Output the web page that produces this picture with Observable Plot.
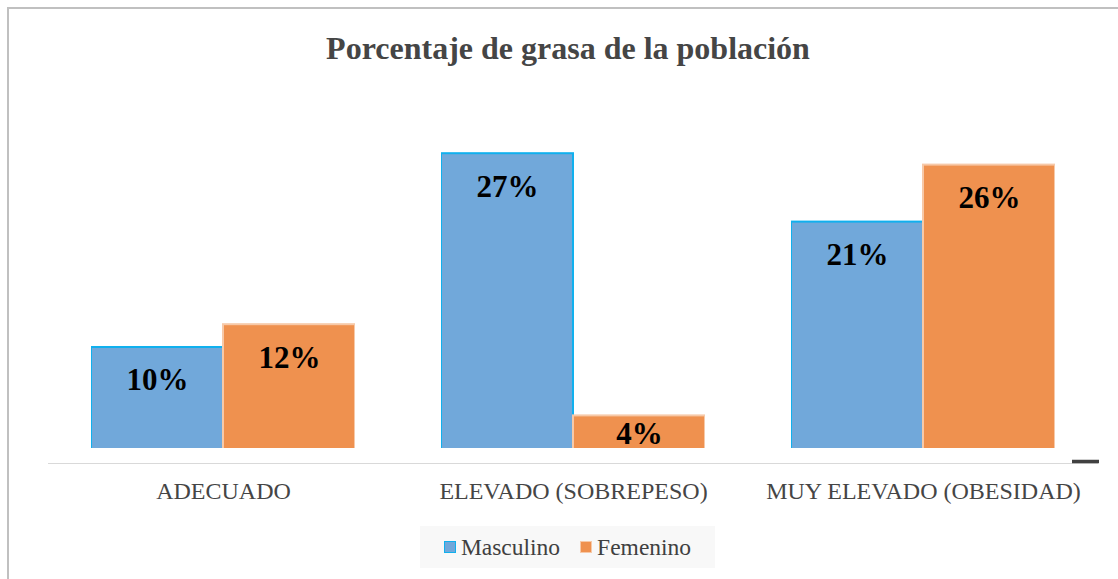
<!DOCTYPE html>
<html>
<head>
<meta charset="utf-8">
<script src="https://cdn.jsdelivr.net/npm/d3@7"></script>
<script src="https://cdn.jsdelivr.net/npm/@observablehq/plot@0.6"></script>
<style>
  html, body { margin: 0; padding: 0; background: #fff; width: 1118px; height: 579px; overflow: hidden; }
  #wrap { position: relative; width: 1118px; height: 579px; }
  #border { position: absolute; left: 7px; top: 7px; width: 1200px; height: 700px;
            border-left: 2px solid #c0c0c0; border-top: 2px solid #c0c0c0; }
  #title { position: absolute; left: 0; width: 1136px; top: 30px; text-align: center;
           font-family: "Liberation Serif", "Times New Roman", serif; font-weight: bold;
           font-size: 32px; line-height: 1.15; color: #454545; white-space: nowrap; }
  #chart { position: absolute; left: 0; top: 0; }
  #legend { position: absolute; left: 420px; top: 526px; width: 295px; height: 42px;
            background: #f8f8f8; display: flex; align-items: center; justify-content: center;
            font-family: "Liberation Serif", "Times New Roman", serif; font-size: 23.5px; color: #404040; }
  .item { display: flex; align-items: center; margin: 0 10px; }
  .sw { width: 10px; height: 10px; margin-right: 5px; }
</style>
</head>
<body>
<div id="wrap">
  <div id="border"></div>
  <div id="chart"></div>
  <div id="title"></div>
  <div id="legend"></div>
</div>
<script>
const titleText = "Porcentaje de grasa de la población";
const categories = ["ADECUADO", "ELEVADO (SOBREPESO)", "MUY ELEVADO (OBESIDAD)"];
const seriesNames = ["Masculino", "Femenino"];
const masculino = [10, 27, 21];
const femenino = [12, 4, 26];
const fills = ["#71A8DA", "#EF914F"];
const strokes = ["#10B0EE", "#F7C9A8"];

const data = [];
categories.forEach((c, i) => {
  data.push({cat: c, sex: seriesNames[0], v: masculino[i]});
  data.push({cat: c, sex: seriesNames[1], v: femenino[i]});
});

document.getElementById("title").textContent = titleText;

const axisFloor = 1.14;
const plot = Plot.plot({
  width: 1118,
  height: 579,
  marginLeft: 48,
  marginRight: 19,
  marginTop: 119,
  marginBottom: 131,
  style: {fontFamily: "'Liberation Serif', 'Times New Roman', serif", fontSize: "24px", color: "#454545", background: "transparent"},
  fx: {domain: categories, paddingInner: 0.2457, paddingOuter: 0.1228, axis: "bottom", tickSize: 0, tickPadding: 33, label: null},
  x: {domain: seriesNames, padding: 0, axis: null},
  y: {domain: [axisFloor, 30], axis: null},
  color: {domain: seriesNames, range: fills},
  marks: [
    Plot.ruleY([0], {dy: 2, insetLeft: -43, insetRight: -43, stroke: "#d9d9d9", strokeWidth: 1.2}),
    Plot.barY(data, {fx: "cat", x: "sex", y: "v", fill: "sex", stroke: d => d.sex === seriesNames[0] ? strokes[0] : strokes[1], strokeWidth: 2, clip: true}),
    Plot.text(data.filter(d => d.v > 6), {fx: "cat", x: "sex", y: "v", text: d => d.v + "%", dy: 33, fill: "#000", fontSize: 31, fontWeight: "bold"}),
    Plot.text(data.filter(d => d.v <= 6), {fx: "cat", x: "sex", y: "v", text: d => d.v + "%", dy: 18, fill: "#000", fontSize: 31, fontWeight: "bold"}),
    Plot.ruleY([{cat: categories[2], y: 0}], {fx: "cat", y: "y", insetLeft: 281, insetRight: -44, stroke: "#404040", strokeWidth: 3.5})
  ]
});
document.getElementById("chart").appendChild(plot);

const legend = document.getElementById("legend");
seriesNames.forEach((s, i) => {
  const it = document.createElement("div");
  it.className = "item";
  const sw = document.createElement("span");
  sw.className = "sw";
  sw.style.background = fills[i];
  sw.style.border = "1.5px solid " + strokes[i];
  const t = document.createElement("span");
  t.textContent = s;
  it.appendChild(sw); it.appendChild(t);
  legend.appendChild(it);
});
</script>
</body>
</html>
